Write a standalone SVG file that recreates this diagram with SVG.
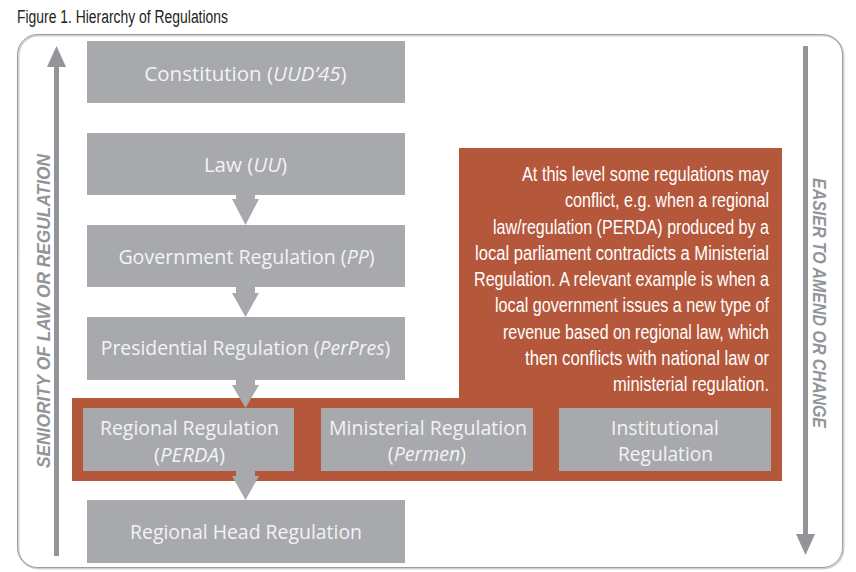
<svg xmlns="http://www.w3.org/2000/svg" width="856" height="572" viewBox="0 0 856 572">
<style>
.box{fill:#a7a9ac}
.bt{font-family:"Open Sans","Noto Sans",sans-serif;font-size:20.5px;fill:#f3f3f4;text-anchor:middle}
.it{font-style:italic}
.ct{font-family:"Liberation Sans",Arial,sans-serif;font-size:20px;fill:#ffffff;text-anchor:end}
.side{font-family:"Liberation Sans",Arial,sans-serif;font-size:18px;font-weight:bold;font-style:italic;fill:#939598;text-anchor:middle}
.arr{fill:#a7a9ac}
.sa{fill:#939598}
</style>
<rect width="856" height="572" fill="#ffffff"/>
<text x="17" y="22.5" font-family="Liberation Sans, Arial, sans-serif" font-size="18" fill="#231f20" textLength="211" lengthAdjust="spacingAndGlyphs">Figure 1. Hierarchy of Regulations</text>
<g id="frame">
<rect x="18.5" y="35.5" width="825" height="533" rx="20" fill="none" stroke="#d0d0d0" stroke-width="2"/>
<rect x="17.5" y="34.5" width="825" height="533" rx="20" fill="none" stroke="#9d9d9d" stroke-width="1"/>
</g>
<g id="seniority-axis">
<rect class="sa" x="54" y="64" width="5" height="492"/>
<polygon class="sa" points="56.5,46 66,67 47,67"/>
<text class="side" transform="translate(49.5,311) rotate(-90)" textLength="314" lengthAdjust="spacingAndGlyphs">SENIORITY OF LAW OR REGULATION</text>
</g>
<g id="amend-axis">
<rect class="sa" x="803" y="46" width="5" height="490"/>
<polygon class="sa" points="805.5,555 815,534 796,534"/>
<text class="side" transform="translate(812.5,303) rotate(90)" textLength="250" lengthAdjust="spacingAndGlyphs">EASIER TO AMEND OR CHANGE</text>
</g>
<g id="conflict-callout">
<polygon fill="#b5573b" points="459,148 782,148 782,481 72,481 72,398 459,398"/>
<text class="ct" x="769" y="181" textLength="247" lengthAdjust="spacingAndGlyphs">At this level some regulations may</text>
<text class="ct" x="769" y="207" textLength="204" lengthAdjust="spacingAndGlyphs">conflict, e.g. when a regional</text>
<text class="ct" x="769" y="233.5" textLength="276" lengthAdjust="spacingAndGlyphs">law/regulation (PERDA) produced by a</text>
<text class="ct" x="769" y="259.5" textLength="294" lengthAdjust="spacingAndGlyphs">local parliament contradicts a Ministerial</text>
<text class="ct" x="769" y="286" textLength="295" lengthAdjust="spacingAndGlyphs">Regulation. A relevant example is when a</text>
<text class="ct" x="769" y="312" textLength="274" lengthAdjust="spacingAndGlyphs">local government issues a new type of</text>
<text class="ct" x="769" y="338.5" textLength="266" lengthAdjust="spacingAndGlyphs">revenue based on regional law, which</text>
<text class="ct" x="769" y="364.5" textLength="244" lengthAdjust="spacingAndGlyphs">then conflicts with national law or</text>
<text class="ct" x="769" y="390.5" textLength="156" lengthAdjust="spacingAndGlyphs">ministerial regulation.</text>
</g>
<g id="connectors">
<rect class="arr" x="236" y="194" width="19" height="6"/>
<polygon class="arr" points="232,199 259,199 245.5,225"/>
<rect class="arr" x="236" y="286" width="19" height="8"/>
<polygon class="arr" points="232,293 259,293 245.5,317"/>
<rect class="arr" x="236" y="379" width="19" height="7"/>
<polygon class="arr" points="232,385 259,385 245.5,408"/>
<rect class="arr" x="236" y="470" width="19" height="7"/>
<polygon class="arr" points="232,476 259,476 245.5,500"/>
</g>
<g id="constitution">
<rect class="box" x="87" y="41" width="318" height="62"/>
<text class="bt" x="245.5" y="81" font-size="20.3">Constitution (<tspan class="it">UUD’45</tspan>)</text>
</g>
<g id="law">
<rect class="box" x="87" y="133" width="318" height="62"/>
<text class="bt" x="245.5" y="172" style="font-size:20.5px">Law (<tspan class="it">UU</tspan>)</text>
</g>
<g id="government-regulation">
<rect class="box" x="87" y="225" width="318" height="62"/>
<text class="bt" x="246.5" y="263.5" style="font-size:19.6px">Government Regulation (<tspan class="it">PP</tspan>)</text>
</g>
<g id="presidential-regulation">
<rect class="box" x="87" y="317" width="318" height="63"/>
<text class="bt" x="245.5" y="355" style="font-size:19.4px">Presidential Regulation (<tspan class="it">PerPres</tspan>)</text>
</g>
<g id="regional-regulation">
<rect class="box" x="83" y="408" width="211" height="63"/>
<text class="bt" x="189.5" y="435" textLength="179" lengthAdjust="spacingAndGlyphs">Regional Regulation</text>
<text class="bt" x="189.5" y="461.5" style="font-size:20.5px">(<tspan class="it">PERDA</tspan>)</text>
</g>
<g id="ministerial-regulation">
<rect class="box" x="321" y="408" width="212" height="63"/>
<text class="bt" x="428" y="435" textLength="198" lengthAdjust="spacingAndGlyphs">Ministerial Regulation</text>
<text class="bt" x="427" y="460.5" style="font-size:19.6px">(<tspan class="it">Permen</tspan>)</text>
</g>
<g id="institutional-regulation">
<rect class="box" x="559" y="408" width="212" height="63"/>
<text class="bt" x="665" y="434.5" textLength="108" lengthAdjust="spacingAndGlyphs">Institutional</text>
<text class="bt" x="665.5" y="460.5" textLength="95" lengthAdjust="spacingAndGlyphs">Regulation</text>
</g>
<g id="regional-head-regulation">
<rect class="box" x="87" y="500" width="318" height="63"/>
<text class="bt" x="246" y="539" textLength="232" lengthAdjust="spacingAndGlyphs">Regional Head Regulation</text>
</g>
</svg>
